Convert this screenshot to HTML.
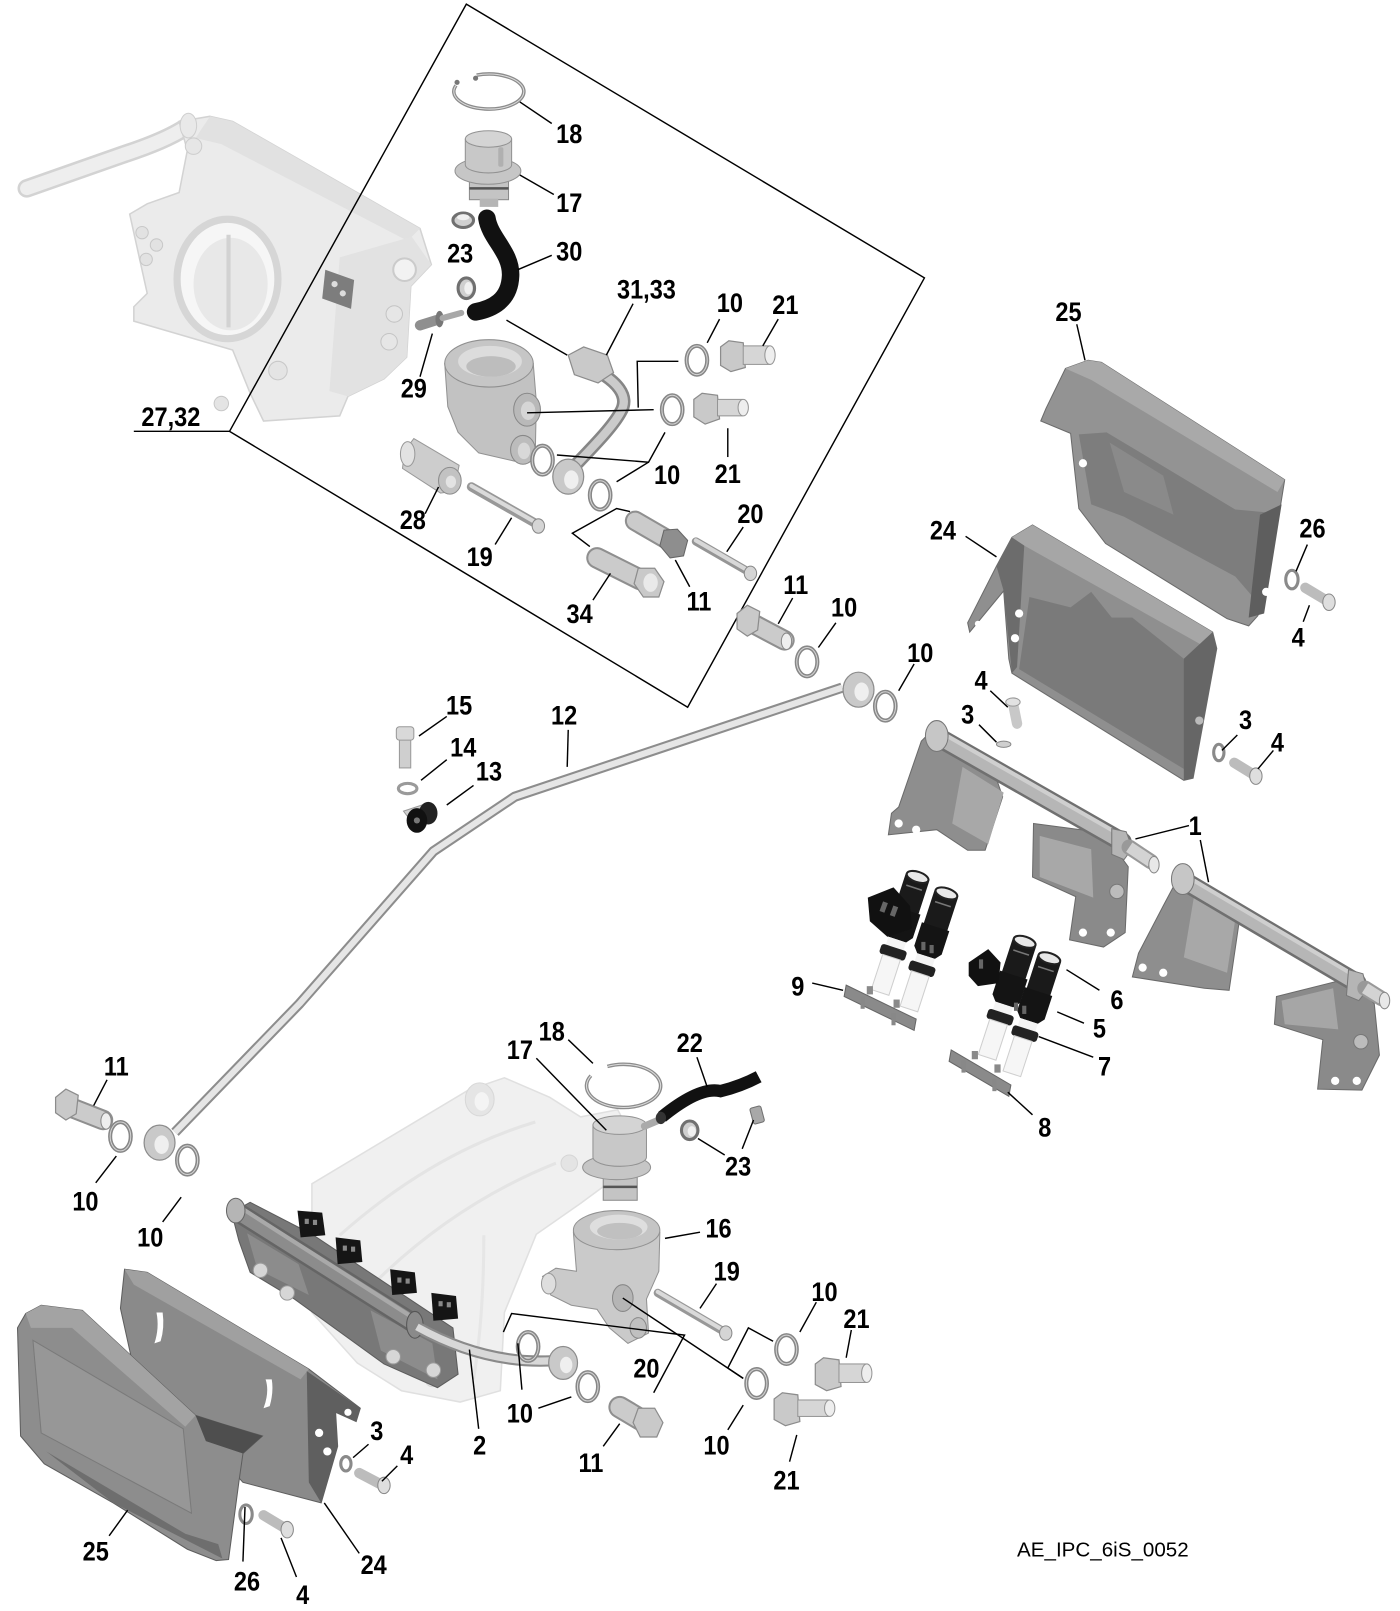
<!DOCTYPE html>
<html><head><meta charset="utf-8"><style>
html,body{margin:0;padding:0;background:#fff;}
svg{display:block;}
.l{font-family:"Liberation Sans",Arial,sans-serif;font-weight:bold;font-size:26px;fill:#000;text-anchor:middle;}
.ld{stroke:#000;stroke-width:1.4;fill:none;}
.mt{fill:#c9c9c9;stroke:#8c8c8c;stroke-width:1.2;}
</style></head><body>
<svg width="1400" height="1611" viewBox="0 0 1360 1565" preserveAspectRatio="none" xmlns="http://www.w3.org/2000/svg">
<defs>
<g id="w"><ellipse rx="10" ry="14" fill="none" stroke="#878787" stroke-width="4"/><ellipse rx="10" ry="14" fill="none" stroke="#d4d4d4" stroke-width="1"/></g>
<g id="inj">
 <rect x="-12" y="0" width="24" height="40" rx="3" fill="#1a1a1a"/>
 <ellipse cx="0" cy="2" rx="11" ry="5" fill="#e8e8e8" stroke="#222" stroke-width="2"/>
 <line x1="-8" y1="13" x2="8" y2="13" stroke="#777" stroke-width="1.5"/>
 <path d="M-14,36 L14,36 L14,60 L9,66 L-9,66 L-14,60 Z" fill="#141414"/>
 <rect x="-9" y="66" width="18" height="8" fill="#f4f4f4"/>
 <rect x="-13" y="74" width="26" height="10" rx="3" fill="#222"/>
 <rect x="-9" y="84" width="18" height="36" fill="#f6f6f6" stroke="#cfcfcf" stroke-width="1"/>
</g>
</defs>

<rect width="1360" height="1565" fill="#fff"/>

<!-- Throttle body (27,32) -->
<path d="M26,183 L120,150 Q160,137 180,124" stroke="#d3d3d3" stroke-width="18" fill="none" stroke-linecap="round"/>
<path d="M26,183 L120,150 Q160,137 180,124" stroke="#eeeeee" stroke-width="13" fill="none" stroke-linecap="round"/>
<path d="M204,113 L226,118 L408,222 L419,257 L399,278 L395,347 L373,368 L338,385 L330,404 L256,409 L243,382 L226,340 L130,312 L130,298 L143,285 L126,208 L143,198 L174,187 L182,146 L174,118 Z" fill="#ebebeb" stroke="#d3d3d3" stroke-width="1.5"/>
<path d="M204,113 L226,118 L408,222 L396,234 L215,140 L190,134 Z" fill="#e1e1e1"/>
<path d="M330,250 L400,230 L419,257 L399,278 L395,347 L373,368 L338,385 L320,380 Z" fill="#e2e2e2"/>
<ellipse cx="221" cy="271" rx="49" ry="58" fill="#f6f6f6" stroke="#d6d6d6" stroke-width="7"/>
<ellipse cx="224" cy="276" rx="36" ry="45" fill="#e8e8e8"/>
<line x1="222" y1="228" x2="222" y2="318" stroke="#d2d2d2" stroke-width="4"/>
<path d="M316,262 L344,272 L341,300 L313,290 Z" fill="#7d7d7d"/>
<circle cx="325" cy="276" r="3" fill="#ddd"/><circle cx="333" cy="285" r="3" fill="#ddd"/>
<circle cx="393" cy="262" r="11" fill="#f2f2f2" stroke="#cbcbcb" stroke-width="2"/>
<circle cx="383" cy="305" r="8" fill="#e6e6e6" stroke="#c4c4c4"/>
<circle cx="378" cy="332" r="8" fill="#e6e6e6" stroke="#c4c4c4"/>
<circle cx="270" cy="360" r="9" fill="#e4e4e4" stroke="#c8c8c8"/>
<circle cx="215" cy="392" r="7" fill="#e4e4e4" stroke="#c8c8c8"/>
<circle cx="138" cy="226" r="6" fill="#e2e2e2" stroke="#c8c8c8"/>
<circle cx="152" cy="238" r="6" fill="#e2e2e2" stroke="#c8c8c8"/>
<circle cx="142" cy="252" r="6" fill="#e2e2e2" stroke="#c8c8c8"/>
<circle cx="188" cy="142" r="8" fill="#e6e6e6" stroke="#cdcdcd"/>
<ellipse cx="183" cy="122" rx="8" ry="12" fill="#e9e9e9" stroke="#cfcfcf"/>

<!-- Box -->
<path d="M453,4 L898,270 L668,687 L223,419 Z" class="ld" stroke-width="1.3"/>
<line x1="130" y1="419" x2="223" y2="419" class="ld"/>

<!-- Circlip 18 top -->
<path d="M463,73 A34,17 0 1 1 443,83" fill="none" stroke="#8c8c8c" stroke-width="3.5"/>
<path d="M463,73 A34,17 0 1 1 443,83" fill="none" stroke="#dcdcdc" stroke-width="1"/>
<circle cx="462" cy="76" r="2.5" fill="#777"/><circle cx="444" cy="80" r="2.5" fill="#777"/>

<!-- Regulator 17 top -->
<rect x="456" y="170" width="38" height="24" fill="#c4c4c4" stroke="#8a8a8a"/>
<line x1="456" y1="183" x2="494" y2="183" stroke="#555" stroke-width="2.5"/>
<rect x="466" y="193" width="18" height="8" fill="#b5b5b5"/>
<ellipse cx="474" cy="166" rx="32" ry="13" fill="#c6c6c6" stroke="#929292"/>
<path d="M452,135 L452,160 A22.5,8 0 0 0 497,160 L497,135 Z" fill="#c8c8c8" stroke="#929292"/>
<ellipse cx="474.5" cy="135" rx="22.5" ry="8" fill="#d4d4d4" stroke="#929292"/>
<rect x="484" y="143" width="5" height="19" rx="2" fill="#b0b0b0"/>

<!-- Clamps 23 -->
<ellipse cx="450" cy="214" rx="10" ry="7" fill="#d0d0d0" stroke="#707070" stroke-width="3"/>
<ellipse cx="450" cy="211" rx="6" ry="3" fill="#f0f0f0"/>
<ellipse cx="453" cy="280" rx="8" ry="10" fill="#cfcfcf" stroke="#707070" stroke-width="3"/>
<ellipse cx="455" cy="280" rx="4" ry="6" fill="#f0f0f0"/>

<!-- Hose 30 -->
<path d="M473,212 C476,232 497,245 496,268 C495,292 478,300 462,303" stroke="#111" stroke-width="17" fill="none" stroke-linecap="round"/>

<!-- Bolt 29 -->
<line x1="408" y1="316" x2="424" y2="311" stroke="#8f8f8f" stroke-width="10" stroke-linecap="round"/>
<ellipse cx="427" cy="310" rx="4" ry="8" fill="#777"/>
<line x1="430" y1="309" x2="448" y2="304" stroke="#a8a8a8" stroke-width="6" stroke-linecap="round"/>

<!-- Pipe 31,33 -->
<path d="M574,357 C600,370 612,385 603,400 C595,415 575,435 556,455" stroke="#868686" stroke-width="13" fill="none"/>
<path d="M574,357 C600,370 612,385 603,400 C595,415 575,435 556,455" stroke="#cbcbcb" stroke-width="8" fill="none"/>
<path d="M552,345 L567,337 L590,345 L596,362 L581,372 L558,364 Z" class="mt"/>
<ellipse cx="552" cy="463" rx="15" ry="17" class="mt"/>
<ellipse cx="555" cy="466" rx="7" ry="9" fill="#efefef"/>

<!-- Housing 28 -->
<path d="M393,438 L402,426 L446,452 L441,477 L428,479 L391,455 Z" fill="#cdcdcd" stroke="#999"/>
<ellipse cx="396" cy="441" rx="7" ry="12" fill="#e2e2e2" stroke="#999"/>
<path d="M432,353 L435,395 L445,420 L465,440 L500,448 L520,440 L521,390 L518,353 Z" fill="#c2c2c2" stroke="#929292"/>
<ellipse cx="437" cy="467" rx="11" ry="13" fill="#c2c2c2" stroke="#8c8c8c"/>
<ellipse cx="438" cy="468" rx="5" ry="6" fill="#e3e3e3"/>
<ellipse cx="475" cy="353" rx="43" ry="23" fill="#c6c6c6" stroke="#8f8f8f"/>
<ellipse cx="476" cy="351" rx="31" ry="15" fill="#dcdcdc"/>
<ellipse cx="477" cy="356" rx="24" ry="10" fill="#bdbdbd"/>
<ellipse cx="512" cy="398" rx="13" ry="16" fill="#b9b9b9" stroke="#888"/>
<ellipse cx="513" cy="399" rx="7" ry="9" fill="#d6d6d6"/>
<ellipse cx="508" cy="437" rx="12" ry="14" fill="#bcbcbc" stroke="#888"/>
<ellipse cx="509" cy="438" rx="6" ry="8" fill="#d8d8d8"/>

<!-- Bolt 19 top -->
<line x1="458" y1="473" x2="523" y2="510" stroke="#989898" stroke-width="9" stroke-linecap="round"/>
<line x1="458" y1="472" x2="523" y2="509" stroke="#dadada" stroke-width="4" stroke-linecap="round"/>
<ellipse cx="523" cy="511" rx="6" ry="7" fill="#d5d5d5" stroke="#888"/>

<!-- Washers top group -->
<use href="#w" x="677" y="350"/>
<use href="#w" x="653" y="398"/>
<use href="#w" x="527" y="447"/>
<use href="#w" x="583" y="481"/>

<!-- Fittings 21 top -->
<path d="M700,337 L708,331 L722,333 L724,357 L710,361 L700,355 Z" class="mt"/>
<rect x="722" y="336" width="26" height="18" fill="#d6d6d6" stroke="#959595"/>
<ellipse cx="748" cy="345" rx="5" ry="9" fill="#eeeeee" stroke="#959595"/>
<path d="M674,388 L682,382 L697,384 L699,407 L685,412 L674,405 Z" class="mt"/>
<rect x="697" y="388" width="24" height="16" fill="#d6d6d6" stroke="#959595"/>
<ellipse cx="722" cy="396" rx="5" ry="8" fill="#eeeeee" stroke="#959595"/>

<!-- Bolt 11 inside box -->
<line x1="617" y1="506" x2="648" y2="524" stroke="#8f8f8f" stroke-width="20" stroke-linecap="round"/>
<line x1="617" y1="506" x2="648" y2="524" stroke="#cbcbcb" stroke-width="16" stroke-linecap="round"/>
<path d="M645,515 L658,514 L668,525 L664,540 L651,542 L641,530 Z" fill="#8e8e8e" stroke="#666"/>
<!-- Banjo 34 -->
<line x1="580" y1="542" x2="622" y2="563" stroke="#8f8f8f" stroke-width="21" stroke-linecap="round"/>
<line x1="580" y1="542" x2="622" y2="563" stroke="#cbcbcb" stroke-width="17" stroke-linecap="round"/>
<path d="M620,552 L636,552 L645,565 L640,580 L625,580 L616,567 Z" class="mt"/>
<ellipse cx="632" cy="566" rx="7" ry="9" fill="#e9e9e9"/>
<!-- Bolt 20 top -->
<line x1="676" y1="526" x2="728" y2="556" stroke="#959595" stroke-width="8" stroke-linecap="round"/>
<line x1="676" y1="525" x2="728" y2="555" stroke="#d8d8d8" stroke-width="4" stroke-linecap="round"/>
<ellipse cx="729" cy="557" rx="6" ry="7" fill="#d5d5d5" stroke="#888"/>

<!-- Bolt 11 outer + washers -->
<line x1="728" y1="604" x2="762" y2="622" stroke="#8f8f8f" stroke-width="20" stroke-linecap="round"/>
<line x1="728" y1="604" x2="762" y2="622" stroke="#cbcbcb" stroke-width="16" stroke-linecap="round"/>
<path d="M716,596 L726,588 L738,594 L736,612 L726,618 L716,611 Z" class="mt"/>
<ellipse cx="764" cy="623" rx="5" ry="8" fill="#eee" stroke="#888"/>
<use href="#w" x="784" y="643"/>
<use href="#w" x="860" y="686"/>

<!-- Bar 12 -->
<path d="M818,668 L500,774 L421,827 L291,975 L170,1100" stroke="#8d8d8d" stroke-width="10" fill="none" stroke-linejoin="round"/>
<path d="M818,668 L500,774 L421,827 L291,975 L170,1100" stroke="#e6e6e6" stroke-width="6" fill="none" stroke-linejoin="round"/>
<ellipse cx="834" cy="670" rx="15" ry="17" class="mt"/>
<ellipse cx="837" cy="672" rx="7" ry="9" fill="#efefef"/>
<ellipse cx="155" cy="1110" rx="15" ry="17" class="mt"/>
<ellipse cx="157" cy="1112" rx="7" ry="9" fill="#efefef"/>

<!-- 13-15 -->
<rect x="388" y="714" width="11" height="32" fill="#cfcfcf" stroke="#999"/>
<rect x="385" y="706" width="17" height="13" rx="3" fill="#d9d9d9" stroke="#999"/>
<ellipse cx="396" cy="766" rx="9" ry="5" fill="none" stroke="#9a9a9a" stroke-width="3"/>
<path d="M392,788 L410,782 L420,798 L404,804 Z" fill="#d0d0d0" stroke="#999"/>
<ellipse cx="416" cy="790" rx="9" ry="11" fill="#222"/>
<ellipse cx="405" cy="797" rx="10" ry="12" fill="#111"/>
<circle cx="405" cy="797" r="3" fill="#777"/>

<!-- Upper right covers -->
<path d="M1035,358 L1057,350 L1070,352 L1248,466 L1243,497 L1222,598 L1213,608 L1192,601 L1074,528 L1048,494 L1040,421 L1011,409 L1016,397 Z" fill="#939393" stroke="#6b6b6b"/>
<path d="M1035,358 L1057,350 L1070,352 L1248,466 L1241,478 L1060,369 Z" fill="#a9a9a9"/>
<path d="M1048,422 L1075,420 L1200,495 L1233,498 L1224,588 L1200,560 L1092,502 L1060,490 Z" fill="#7d7d7d"/>
<path d="M1078,430 L1130,462 L1140,500 L1092,478 Z" fill="#8a8a8a"/>
<path d="M1224,500 L1245,490 L1228,596 L1213,600 Z" fill="#5e5e5e"/>
<circle cx="1052" cy="450" r="4" fill="#fff"/><circle cx="1230" cy="575" r="4" fill="#fff"/>

<path d="M983,522 L1003,510 L1178,614 L1182,630 L1159,756 L1150,758 L983,654 L980,640 L975,574 L942,614 L940,605 L968,550 Z" fill="#8f8f8f" stroke="#6b6b6b"/>
<path d="M983,522 L1003,510 L1178,614 L1170,628 L995,530 Z" fill="#a6a6a6"/>
<path d="M968,550 L983,522 L995,530 L988,648 L983,654 L975,574 Z" fill="#6c6c6c"/>
<path d="M1000,580 L1040,590 L1060,575 L1080,600 L1100,600 L1150,640 L1155,750 L990,650 Z" fill="#7a7a7a"/>
<path d="M1150,640 L1178,614 L1182,630 L1159,756 L1150,758 Z" fill="#666"/>
<circle cx="990" cy="596" r="4" fill="#fff"/><circle cx="986" cy="620" r="4" fill="#fff"/>
<circle cx="950" cy="606" r="3" fill="#fff"/>
<circle cx="1165" cy="700" r="4" fill="#bbb"/>

<!-- Bolts 3/4 right -->
<line x1="984" y1="683" x2="988" y2="703" stroke="#c8c8c8" stroke-width="10" stroke-linecap="round"/>
<ellipse cx="984" cy="682" rx="7" ry="4" fill="#e2e2e2" stroke="#999"/>
<ellipse cx="975" cy="723" rx="7" ry="3" fill="#cfcfcf" stroke="#888"/>
<ellipse cx="1255" cy="563" rx="6" ry="9" fill="none" stroke="#8a8a8a" stroke-width="3"/>
<line x1="1268" y1="571" x2="1288" y2="583" stroke="#bcbcbc" stroke-width="10" stroke-linecap="round"/>
<ellipse cx="1291" cy="585" rx="6" ry="8" fill="#dedede" stroke="#888"/>
<ellipse cx="1184" cy="731" rx="5" ry="8" fill="none" stroke="#8a8a8a" stroke-width="3"/>
<line x1="1199" y1="741" x2="1217" y2="752" stroke="#bcbcbc" stroke-width="10" stroke-linecap="round"/>
<ellipse cx="1220" cy="754" rx="6" ry="8" fill="#dedede" stroke="#888"/>

<!-- Rail 1 -->
<path d="M906,709 L964,745 L974,774 L957,826 L940,826 L910,806 L863,811 L866,790 L873,784 L895,720 Z" fill="#8e8e8e" stroke="#6a6a6a"/>
<path d="M935,745 L975,770 L960,820 L925,800 Z" fill="#a8a8a8"/>
<circle cx="873" cy="800" r="4" fill="#fff"/><circle cx="890" cy="806" r="4" fill="#fff"/>
<path d="M1004,800 L1072,809 L1096,842 L1093,906 L1072,920 L1039,913 L1045,871 L1003,852 Z" fill="#8a8a8a" stroke="#6a6a6a"/>
<path d="M1010,812 L1060,825 L1062,872 L1010,852 Z" fill="#a8a8a8"/>
<circle cx="1052" cy="906" r="4" fill="#fff"/><circle cx="1079" cy="906" r="4" fill="#fff"/>
<circle cx="1085" cy="866" r="7" fill="#bcbcbc" stroke="#777"/>
<line x1="913" y1="717" x2="1090" y2="818" stroke="#707070" stroke-width="19" stroke-linecap="round"/>
<line x1="913" y1="717" x2="1090" y2="818" stroke="#b6b6b6" stroke-width="14"/>
<line x1="915" y1="712" x2="1090" y2="812" stroke="#cfcfcf" stroke-width="4"/>
<ellipse cx="910" cy="715" rx="11" ry="15" fill="#c6c6c6" stroke="#777"/>
<path d="M1080,805 L1094,808 L1100,824 L1092,835 L1080,830 Z" fill="#b5b5b5" stroke="#777"/>
<line x1="1097" y1="823" x2="1118" y2="837" stroke="#999" stroke-width="15" stroke-linecap="round"/>
<line x1="1097" y1="823" x2="1118" y2="837" stroke="#d3d3d3" stroke-width="11"/>
<ellipse cx="1121" cy="840" rx="5" ry="8" fill="#e8e8e8" stroke="#888"/>

<!-- Rail 2 -->
<path d="M1147,848 L1205,887 L1194,962 L1170,960 L1100,949 L1106,926 L1130,880 Z" fill="#8e8e8e" stroke="#6a6a6a"/>
<path d="M1160,870 L1200,893 L1192,945 L1150,930 Z" fill="#a8a8a8"/>
<circle cx="1110" cy="940" r="4" fill="#fff"/><circle cx="1130" cy="945" r="4" fill="#fff"/>
<path d="M1240,968 L1312,950 L1335,975 L1340,1025 L1323,1059 L1280,1058 L1285,1010 L1238,995 Z" fill="#8a8a8a" stroke="#6a6a6a"/>
<path d="M1245,972 L1295,960 L1300,1000 L1248,995 Z" fill="#a6a6a6"/>
<circle cx="1297" cy="1050" r="4" fill="#fff"/><circle cx="1318" cy="1050" r="4" fill="#fff"/>
<circle cx="1322" cy="1012" r="7" fill="#bcbcbc" stroke="#777"/>
<line x1="1152" y1="857" x2="1318" y2="955" stroke="#707070" stroke-width="19" stroke-linecap="round"/>
<line x1="1152" y1="857" x2="1318" y2="955" stroke="#b6b6b6" stroke-width="14"/>
<line x1="1154" y1="852" x2="1318" y2="949" stroke="#cfcfcf" stroke-width="4"/>
<ellipse cx="1149" cy="854" rx="11" ry="15" fill="#c6c6c6" stroke="#777"/>
<path d="M1310,942 L1324,946 L1328,962 L1320,972 L1308,967 Z" fill="#b5b5b5" stroke="#777"/>
<line x1="1326" y1="960" x2="1342" y2="970" stroke="#999" stroke-width="15" stroke-linecap="round"/>
<line x1="1326" y1="960" x2="1342" y2="970" stroke="#d3d3d3" stroke-width="11"/>
<ellipse cx="1345" cy="972" rx="5" ry="8" fill="#e8e8e8" stroke="#888"/>

<!-- Injectors -->
<use href="#inj" transform="translate(892,850) rotate(18)"/>
<use href="#inj" transform="translate(920,866) rotate(18)"/>
<path d="M843,872 L868,862 L884,880 L886,902 L862,910 L845,895 Z" fill="#111"/>
<rect x="856" y="876" width="5" height="10" fill="#666" transform="rotate(20 858 881)"/>
<rect x="866" y="880" width="5" height="10" fill="#666" transform="rotate(20 868 885)"/>
<rect x="895" y="915" width="4" height="8" fill="#666"/><rect x="903" y="918" width="4" height="8" fill="#666"/>
<use href="#inj" transform="translate(996,913) rotate(18)"/>
<use href="#inj" transform="translate(1020,929) rotate(18)"/>
<path d="M941,935 L960,922 L972,935 L970,955 L950,958 L941,948 Z" fill="#111"/>
<rect x="951" y="932" width="4" height="9" fill="#666"/>
<rect x="985" y="974" width="4" height="8" fill="#666"/><rect x="993" y="977" width="4" height="8" fill="#666"/>
<!-- Clips 9 / 8 -->
<path d="M822,957 L890,990 L888,1001 L820,968 Z" fill="#8a8a8a" stroke="#666"/>
<rect x="836" y="968" width="4" height="12" fill="#888"/><rect x="866" y="984" width="4" height="12" fill="#888"/>
<rect x="842" y="958" width="6" height="8" fill="#8a8a8a"/><rect x="868" y="971" width="6" height="8" fill="#8a8a8a"/>
<path d="M924,1020 L982,1054 L980,1065 L922,1031 Z" fill="#8a8a8a" stroke="#666"/>
<rect x="934" y="1030" width="4" height="12" fill="#888"/><rect x="964" y="1048" width="4" height="12" fill="#888"/>
<rect x="944" y="1021" width="6" height="8" fill="#8a8a8a"/><rect x="966" y="1034" width="6" height="8" fill="#8a8a8a"/>

<!-- Manifold lower -->
<path d="M303,1150 L373,1108 L455,1059 L490,1047 L534,1066 L564,1085 L600,1078 L625,1124 L564,1169 L521,1199 L490,1275 L486,1351 L447,1362 L390,1351 L347,1324 L303,1275 Z" fill="#f0f0f0" stroke="#e0e0e0" stroke-width="1.5"/>
<path d="M330,1200 Q420,1120 520,1090" stroke="#e4e4e4" stroke-width="3" fill="none"/>
<path d="M360,1250 Q440,1170 540,1130" stroke="#e4e4e4" stroke-width="3" fill="none"/>
<path d="M470,1200 Q470,1280 460,1340" stroke="#e6e6e6" stroke-width="3" fill="none"/>
<ellipse cx="466" cy="1068" rx="14" ry="16" fill="#e5e5e5" stroke="#d8d8d8"/>
<ellipse cx="468" cy="1070" rx="7" ry="9" fill="#f4f4f4"/>
<circle cx="553" cy="1130" r="8" fill="#e4e4e4" stroke="#d6d6d6"/>
<circle cx="420" cy="1340" r="7" fill="#e6e6e6" stroke="#d6d6d6"/>

<!-- Rail part 2 lower -->
<path d="M225,1178 L243,1168 L303,1199 L440,1290 L445,1335 L425,1348 L373,1325 L286,1262 L243,1236 L232,1205 Z" fill="#787878" stroke="#5c5c5c"/>
<path d="M240,1198 L290,1228 L300,1258 L250,1233 Z" fill="#8c8c8c"/>
<path d="M360,1273 L420,1305 L425,1340 L370,1312 Z" fill="#8c8c8c"/>
<circle cx="253" cy="1234" r="7" fill="#d6d6d6" stroke="#999"/><circle cx="279" cy="1256" r="7" fill="#d6d6d6" stroke="#999"/>
<circle cx="382" cy="1318" r="7" fill="#d6d6d6" stroke="#999"/><circle cx="421" cy="1331" r="7" fill="#d6d6d6" stroke="#999"/>
<line x1="230" y1="1177" x2="401" y2="1285" stroke="#656565" stroke-width="19" stroke-linecap="round"/>
<line x1="230" y1="1177" x2="401" y2="1285" stroke="#8c8c8c" stroke-width="14"/>
<line x1="232" y1="1172" x2="401" y2="1280" stroke="#a9a9a9" stroke-width="4"/>
<ellipse cx="229" cy="1176" rx="9" ry="12" fill="#b5b5b5" stroke="#666"/>
<ellipse cx="403" cy="1287" rx="8" ry="13" fill="#8a8a8a" stroke="#555"/>
<path d="M405,1289 Q470,1325 535,1322" stroke="#8a8a8a" stroke-width="11" fill="none"/>
<path d="M405,1289 Q470,1325 535,1322" stroke="#d8d8d8" stroke-width="7" fill="none"/>
<path d="M289,1176 L313,1178 L316,1200 L292,1202 Z" fill="#151515"/>
<rect x="296" y="1184" width="4" height="5" fill="#888"/><rect x="304" y="1185" width="4" height="5" fill="#888"/>
<path d="M326,1202 L350,1205 L352,1226 L328,1228 Z" fill="#151515"/>
<rect x="333" y="1210" width="4" height="5" fill="#888"/><rect x="341" y="1211" width="4" height="5" fill="#888"/>
<path d="M379,1233 L403,1236 L405,1256 L381,1258 Z" fill="#151515"/>
<rect x="386" y="1241" width="4" height="5" fill="#888"/><rect x="394" y="1242" width="4" height="5" fill="#888"/>
<path d="M419,1256 L443,1259 L445,1281 L421,1283 Z" fill="#151515"/>
<rect x="426" y="1264" width="4" height="5" fill="#888"/><rect x="434" y="1265" width="4" height="5" fill="#888"/>
<ellipse cx="547" cy="1324" rx="14" ry="16" class="mt"/>
<ellipse cx="550" cy="1326" rx="6" ry="8" fill="#efefef"/>

<!-- Lower covers -->
<path d="M117,1271 L121,1233 L143,1236 L300,1330 L350,1368 L346,1381 L326,1372 L328,1405 L312,1460 L236,1440 L200,1400 L130,1330 Z" fill="#8a8a8a" stroke="#5e5e5e"/>
<path d="M121,1233 L143,1236 L300,1330 L292,1340 L130,1248 Z" fill="#a0a0a0"/>
<path d="M298,1332 L350,1368 L346,1381 L326,1372 L328,1405 L312,1460 L300,1440 Z" fill="#5f5f5f"/>
<circle cx="338" cy="1372" r="3.5" fill="#fff"/><circle cx="310" cy="1392" r="4" fill="#fff"/><circle cx="318" cy="1410" r="4" fill="#fff"/>
<path d="M152,1275 Q155,1290 150,1305 L156,1303 Q160,1290 158,1275 Z" fill="#fff"/>
<path d="M258,1340 Q262,1352 256,1368 L262,1366 Q266,1352 264,1340 Z" fill="#fff"/>
<path d="M17,1290 L25,1276 L40,1268 L80,1273 L190,1375 L215,1383 L255,1395 L236,1412 L232,1440 L222,1515 L210,1516 L182,1505 L110,1460 L43,1422 L20,1395 Z" fill="#8d8d8d" stroke="#5e5e5e"/>
<path d="M25,1276 L40,1268 L80,1273 L190,1375 L180,1386 L70,1290 L30,1290 Z" fill="#a3a3a3"/>
<path d="M32,1302 L178,1388 L186,1470 L40,1392 Z" fill="#979797" stroke="#7a7a7a" stroke-width="1"/>
<path d="M45,1410 L180,1490 L212,1500 L216,1514 L110,1460 Z" fill="#6e6e6e"/>
<path d="M190,1375 L255,1395 L236,1412 L200,1400 Z" fill="#4e4e4e"/>
<!-- lower left bolts -->
<ellipse cx="336" cy="1422" rx="5" ry="7" fill="none" stroke="#8a8a8a" stroke-width="3"/>
<line x1="349" y1="1431" x2="370" y2="1442" stroke="#bcbcbc" stroke-width="10" stroke-linecap="round"/>
<ellipse cx="373" cy="1443" rx="6" ry="8" fill="#dedede" stroke="#888"/>
<ellipse cx="239" cy="1471" rx="6" ry="9" fill="none" stroke="#8a8a8a" stroke-width="3"/>
<line x1="256" y1="1472" x2="276" y2="1484" stroke="#bcbcbc" stroke-width="10" stroke-linecap="round"/>
<ellipse cx="279" cy="1486" rx="6" ry="8" fill="#dedede" stroke="#888"/>

<!-- lower left banjo bolt 11 + washers -->
<line x1="72" y1="1077" x2="100" y2="1088" stroke="#8f8f8f" stroke-width="20" stroke-linecap="round"/>
<line x1="72" y1="1077" x2="100" y2="1088" stroke="#cbcbcb" stroke-width="16" stroke-linecap="round"/>
<path d="M54,1066 L64,1058 L76,1064 L74,1082 L64,1088 L54,1081 Z" class="mt"/>
<ellipse cx="103" cy="1089" rx="5" ry="8" fill="#eee" stroke="#888"/>
<use href="#w" x="117" y="1104"/>
<use href="#w" x="182" y="1127"/>

<!-- Lower regulator 17/18/22/23 -->
<path d="M590,1036 A36,21 0 1 1 574,1045" fill="none" stroke="#8c8c8c" stroke-width="3.5"/>
<path d="M590,1036 A36,21 0 1 1 574,1045" fill="none" stroke="#dcdcdc" stroke-width="1"/>
<rect x="586" y="1140" width="33" height="26" fill="#c4c4c4" stroke="#8a8a8a"/>
<line x1="586" y1="1153" x2="619" y2="1153" stroke="#555" stroke-width="2.5"/>
<ellipse cx="599" cy="1134" rx="33" ry="12" fill="#c6c6c6" stroke="#929292"/>
<path d="M576,1093 L576,1124 A26,9 0 0 0 628,1124 L628,1093 Z" fill="#c8c8c8" stroke="#929292"/>
<ellipse cx="602" cy="1093" rx="26" ry="9" fill="#d4d4d4" stroke="#929292"/>
<line x1="626" y1="1094" x2="638" y2="1089" stroke="#aaa" stroke-width="7" stroke-linecap="round"/>
<path d="M643,1085 Q680,1055 700,1060 Q720,1055 737,1046" stroke="#111" stroke-width="12" fill="none"/>
<ellipse cx="642" cy="1086" rx="5" ry="6" fill="#333"/>
<ellipse cx="670" cy="1098" rx="8" ry="9" fill="#cfcfcf" stroke="#707070" stroke-width="3"/>
<ellipse cx="672" cy="1099" rx="4" ry="5" fill="#f0f0f0"/>
<rect x="730" y="1075" width="11" height="16" rx="2" fill="#a8a8a8" stroke="#707070" transform="rotate(-15 736 1083)"/>

<!-- Housing 16 -->
<path d="M557,1197 L641,1197 L640,1235 L628,1262 L630,1295 L610,1305 L592,1290 L580,1272 L555,1268 L535,1258 L527,1240 L540,1232 L560,1235 Z" fill="#cacaca" stroke="#929292"/>
<ellipse cx="533" cy="1247" rx="7" ry="10" fill="#dedede" stroke="#999"/>
<ellipse cx="599" cy="1195" rx="42" ry="19" fill="#c5c5c5" stroke="#929292"/>
<ellipse cx="601" cy="1192" rx="28" ry="12" fill="#dedede"/>
<ellipse cx="602" cy="1196" rx="22" ry="8" fill="#c0c0c0"/>
<ellipse cx="605" cy="1261" rx="10" ry="13" fill="#b5b5b5" stroke="#888"/>
<ellipse cx="620" cy="1290" rx="8" ry="10" fill="#c0c0c0" stroke="#888"/>
<!-- bolt 19 lower -->
<line x1="639" y1="1256" x2="704" y2="1294" stroke="#989898" stroke-width="8" stroke-linecap="round"/>
<line x1="639" y1="1255" x2="704" y2="1293" stroke="#dadada" stroke-width="4" stroke-linecap="round"/>
<ellipse cx="705" cy="1295" rx="6" ry="7" fill="#d5d5d5" stroke="#888"/>
<!-- washers lower -->
<use href="#w" x="513" y="1308"/>
<use href="#w" x="571" y="1347"/>
<use href="#w" x="764" y="1311"/>
<use href="#w" x="735" y="1344"/>
<!-- bolt 11 lower -->
<line x1="602" y1="1367" x2="624" y2="1380" stroke="#8f8f8f" stroke-width="22" stroke-linecap="round"/>
<line x1="602" y1="1367" x2="624" y2="1380" stroke="#cbcbcb" stroke-width="18" stroke-linecap="round"/>
<path d="M620,1368 L636,1368 L644,1382 L638,1396 L622,1396 L615,1382 Z" class="mt"/>
<!-- fittings 21 lower -->
<path d="M792,1325 L800,1319 L815,1321 L817,1347 L803,1351 L792,1345 Z" class="mt"/>
<rect x="815" y="1325" width="26" height="18" fill="#d6d6d6" stroke="#959595"/>
<ellipse cx="842" cy="1334" rx="5" ry="9" fill="#eeeeee" stroke="#959595"/>
<path d="M752,1359 L760,1353 L775,1355 L777,1381 L763,1385 L752,1379 Z" class="mt"/>
<rect x="775" y="1360" width="30" height="16" fill="#d6d6d6" stroke="#959595"/>
<ellipse cx="806" cy="1368" rx="5" ry="8" fill="#eeeeee" stroke="#959595"/>

<!-- Leaders -->
<g class="ld">
<path d="M505,99 L536,120"/>
<path d="M505,170 L538,189"/>
<path d="M503,262 L536,248"/>
<path d="M492,311 L551,345"/>
<path d="M615,295 L589,345"/>
<path d="M699,310 L687,333"/>
<path d="M756,310 L741,336"/>
<path d="M420,324 L408,366"/>
<path d="M659,351 L619,351 L620,396"/>
<path d="M512,401 L635,398"/>
<path d="M541,442 L630,449 L646,420"/>
<path d="M630,449 L599,468"/>
<path d="M707,444 L707,416"/>
<path d="M426,473 L413,499"/>
<path d="M497,503 L481,529"/>
<path d="M593,557 L576,583"/>
<path d="M656,544 L670,570"/>
<path d="M722,512 L706,536"/>
<path d="M612,497 L599,494 L556,518 L573,531"/>
<path d="M770,581 L756,606"/>
<path d="M812,605 L795,629"/>
<path d="M888,645 L873,671"/>
<path d="M1046,315 L1054,350"/>
<path d="M938,521 L968,541"/>
<path d="M1270,529 L1259,555"/>
<path d="M1272,588 L1266,604"/>
<path d="M962,671 L979,687"/>
<path d="M951,704 L968,721"/>
<path d="M1202,714 L1187,729"/>
<path d="M1237,729 L1222,747"/>
<path d="M1155,802 L1103,815"/>
<path d="M1166,816 L1174,857"/>
<path d="M434,696 L407,715"/>
<path d="M434,738 L409,758"/>
<path d="M460,763 L434,782"/>
<path d="M552,709 L551,745"/>
<path d="M789,955 L819,962"/>
<path d="M1036,942 L1068,962"/>
<path d="M1027,983 L1053,994"/>
<path d="M1009,1007 L1062,1027"/>
<path d="M979,1061 L1003,1083"/>
<path d="M104,1049 L91,1074"/>
<path d="M113,1123 L93,1149"/>
<path d="M176,1163 L158,1187"/>
<path d="M552,1010 L576,1033"/>
<path d="M521,1028 L589,1098"/>
<path d="M677,1027 L687,1056"/>
<path d="M704,1122 L678,1106"/>
<path d="M721,1116 L732,1088"/>
<path d="M680,1197 L646,1203"/>
<path d="M696,1247 L680,1271"/>
<path d="M793,1265 L777,1294"/>
<path d="M827,1292 L822,1319"/>
<path d="M751,1303 L727,1290 L707,1329 L722,1339"/>
<path d="M605,1261 L722,1339"/>
<path d="M722,1365 L707,1389"/>
<path d="M774,1394 L767,1420"/>
<path d="M602,1383 L586,1405"/>
<path d="M456,1311 L465,1388"/>
<path d="M523,1368 L555,1357"/>
<path d="M507,1350 L503,1305"/>
<path d="M489,1294 L497,1276 L665,1297 L635,1353"/>
<path d="M358,1403 L343,1416"/>
<path d="M386,1424 L371,1439"/>
<path d="M124,1467 L106,1492"/>
<path d="M238,1464 L236,1517"/>
<path d="M273,1494 L288,1532"/>
<path d="M315,1460 L349,1509"/>
</g>

<!-- Labels -->
<g transform="scale(0.88 1)" class="l">
<text x="628.4" y="139">18</text>
<text x="628.4" y="206">17</text>
<text x="508" y="255">23</text>
<text x="628.4" y="253">30</text>
<text x="713.6" y="290">31,33</text>
<text x="805.7" y="303">10</text>
<text x="867" y="305">21</text>
<text x="456.8" y="386">29</text>
<text x="188.6" y="414">27,32</text>
<text x="803.4" y="469">21</text>
<text x="736.4" y="470">10</text>
<text x="455.7" y="514">28</text>
<text x="529.5" y="550">19</text>
<text x="828.4" y="508">20</text>
<text x="771.6" y="593">11</text>
<text x="639.8" y="605">34</text>
<text x="878.4" y="577">11</text>
<text x="931.8" y="599">10</text>
<text x="1015.9" y="643">10</text>
<text x="1179.5" y="312">25</text>
<text x="1040.9" y="524">24</text>
<text x="1448.9" y="522">26</text>
<text x="1433" y="628">4</text>
<text x="1083" y="670">4</text>
<text x="1068.2" y="703">3</text>
<text x="1375" y="708">3</text>
<text x="1410.2" y="730">4</text>
<text x="1319.3" y="811">1</text>
<text x="506.8" y="694">15</text>
<text x="511.4" y="735">14</text>
<text x="539.8" y="758">13</text>
<text x="622.7" y="704">12</text>
<text x="880.7" y="967">9</text>
<text x="1233" y="980">6</text>
<text x="1213.6" y="1008">5</text>
<text x="1219.3" y="1045">7</text>
<text x="1153.4" y="1104">8</text>
<text x="128.4" y="1045">11</text>
<text x="94.3" y="1176">10</text>
<text x="165.9" y="1211">10</text>
<text x="609.1" y="1011">18</text>
<text x="573.9" y="1029">17</text>
<text x="761.4" y="1022">22</text>
<text x="814.8" y="1142">23</text>
<text x="793.2" y="1202">16</text>
<text x="802.3" y="1244">19</text>
<text x="910.2" y="1264">10</text>
<text x="945.5" y="1290">21</text>
<text x="713.6" y="1338">20</text>
<text x="573.9" y="1382">10</text>
<text x="529.5" y="1413">2</text>
<text x="652.3" y="1430">11</text>
<text x="790.9" y="1413">10</text>
<text x="868.2" y="1447">21</text>
<text x="415.9" y="1399">3</text>
<text x="448.9" y="1422">4</text>
<text x="105.7" y="1516">25</text>
<text x="272.7" y="1545">26</text>
<text x="334.1" y="1558">4</text>
<text x="412.5" y="1529">24</text>
</g>
<text x="988" y="1512" font-family="'Liberation Sans',Arial,sans-serif" font-size="20" fill="#000">AE_IPC_6iS_0052</text>
</svg>
</body></html>
